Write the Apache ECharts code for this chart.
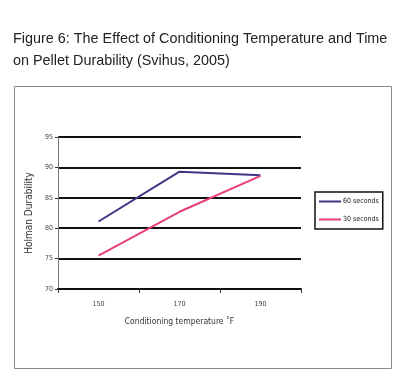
<!DOCTYPE html>
<html><head><meta charset="utf-8">
<script src="https://cdn.jsdelivr.net/npm/echarts@6/dist/echarts.min.js"></script>
<style>html,body{margin:0;padding:0;background:#fff}#c{width:403px;height:387px}</style>
</head><body><div id="c"></div>
<script>
const categories = ['150', '170', '190'];
const sec60 = [81.1, 89.3, 88.7];
const sec30 = [75.5, 82.7, 88.6];
const seriesNames = ['60 seconds', '30 seconds'];

const chart = echarts.init(document.getElementById('c'), null, {renderer: 'canvas'});
chart.setOption({
  animation: false,
  backgroundColor: '#fff',
  title: {
    text: 'Figure 6: The Effect of Conditioning Temperature and Time\non Pellet Durability (Svihus, 2005)',
    left: 8, top: 23,
    textStyle: {fontFamily: 'Liberation Sans', fontSize: 14.4, fontWeight: 'normal', color: '#222', lineHeight: 22}
  },
  graphic: [{
    type: 'rect', shape: {x: 14.5, y: 86.5, width: 377, height: 282},
    style: {fill: 'none', stroke: '#8a8a8a', lineWidth: 1}, z: -1
  }],
  legend: {
    data: seriesNames, orient: 'vertical', left: 315, top: 192,
    borderColor: '#111', borderWidth: 1.5, padding: [6, 4, 6, 4], itemGap: 11,
    icon: 'rect', itemWidth: 22, itemHeight: 2,
    textStyle: {fontFamily: 'DejaVu Sans Condensed', fontSize: 7, color: '#222', padding: [0, 0, 0, -3]}
  },
  grid: {left: 58, right: 102, top: 137, bottom: 98},
  xAxis: {
    type: 'category', data: categories,
    name: 'Conditioning temperature \u02daF', nameLocation: 'middle', nameGap: 28,
    nameTextStyle: {fontFamily: 'DejaVu Sans Condensed', fontSize: 8.5, color: '#333'},
    axisLine: {lineStyle: {color: '#111', width: 2}},
    axisTick: {show: true, length: 4, lineStyle: {color: '#333', width: 1}},
    axisLabel: {fontFamily: 'DejaVu Sans Condensed', fontSize: 7, color: '#444', margin: 12}
  },
  yAxis: {
    type: 'value', min: 70, max: 95, interval: 5,
    name: 'Holman Durability', nameLocation: 'middle', nameGap: 24, nameRotate: 90,
    nameTextStyle: {fontFamily: 'DejaVu Sans Condensed', fontSize: 10, color: '#333'},
    axisLine: {show: true, lineStyle: {color: '#777', width: 1}},
    axisTick: {show: true, length: 3, lineStyle: {color: '#333'}},
    axisLabel: {fontFamily: 'DejaVu Sans Condensed', fontSize: 7, color: '#444', margin: 5},
    splitLine: {show: true, lineStyle: {color: '#111', width: 2}}
  },
  series: [
    {name: seriesNames[0], type: 'line', data: sec60, symbol: 'none', color: '#3b3785', lineStyle: {width: 2}},
    {name: seriesNames[1], type: 'line', data: sec30, symbol: 'none', color: '#e83e7e', lineStyle: {width: 2}}
  ]
});
</script></body></html>
